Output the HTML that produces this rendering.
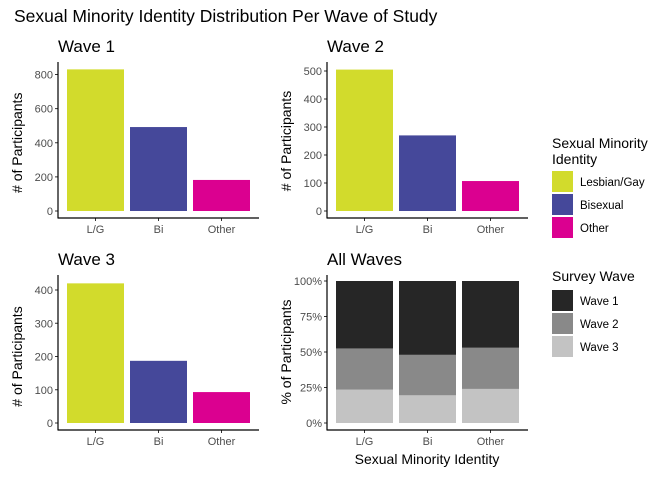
<!DOCTYPE html>
<html><head><meta charset="utf-8"><style>
body{margin:0;background:#fff}
svg{display:block;font-family:"Liberation Sans",Arial,sans-serif}
.tk{font-size:11px;fill:#4d4d4d}
.at{font-size:14px;fill:#000}
.pt{font-size:17px;fill:#000}
.lg{font-size:11.5px;fill:#000}
</style></head><body>
<svg id="c" width="672" height="480">
<text x="14" y="22" style="font-size:17.5px">Sexual Minority Identity Distribution Per Wave of Study</text>
</svg>
<script>
const categories=["L/G","Bi","Other"];
const catColors=["#D2DB2C","#45489A","#DB0090"];
const wave1Counts=[830,492,182];
const wave2Counts=[505,270,107];
const wave3Counts=[420,187,93];
const wave1Ticks=[0,200,400,600,800];
const wave2Ticks=[0,100,200,300,400,500];
const wave3Ticks=[0,100,200,300,400];
const shareWave1=[47.5,52,47];
const shareWave2=[29,28.5,29];
const shareWave3=[23.5,19.5,24];
const pctTicks=[0,25,50,75,100];
const waveNames=["Wave 1","Wave 2","Wave 3"];
const waveColors=["#262626","#898989","#C3C3C3"];
const NS="http://www.w3.org/2000/svg";
const svg=document.getElementById('c');
function mk(t,a,txt){const e=document.createElementNS(NS,t);for(const k in a)e.setAttribute(k,a[k]);if(txt!==undefined)e.textContent=txt;svg.appendChild(e);return e;}
function panel(px,y0,yTop,maxV,ticks,title,titleY,ytitle,fmt,id){
  const sy=v=>y0-(v/maxV)*(y0-yTop);
  const bx=i=>px+9+i*63;
  let e=mk('text',{x:px,y:titleY,class:'pt'},title);
  
  e=mk('text',{class:'at',transform:`translate(${px-36},${(y0+yTop)/2}) rotate(-90)`,'text-anchor':'middle'},ytitle);
  
  ticks.forEach(t=>{
    mk('line',{x1:px-3,x2:px,y1:sy(t),y2:sy(t),stroke:'#333','stroke-width':1});
    e=mk('text',{x:px-5,y:sy(t)+4,class:'tk','text-anchor':'end'},fmt(t));
    
  });
  categories.forEach((c,i)=>{
    const cx=bx(i)+28.5;
    mk('line',{x1:cx,x2:cx,y1:y0+7,y2:y0+10,stroke:'#333'});
    e=mk('text',{x:cx,y:y0+22,class:'tk','text-anchor':'middle'},c);
    
  });
  mk('line',{x1:px,x2:px,y1:titleY+10,y2:y0+7.5,stroke:'#000','stroke-width':1.2});
  mk('line',{x1:px,x2:px+201,y1:y0+7,y2:y0+7,stroke:'#000','stroke-width':1.2});
  return {sy,bx};
}
function countPanel(px,y0,yTop,ticks,vals,title,titleY,id){
  const maxV=ticks[ticks.length-1];
  const p=panel(px,y0,yTop,maxV,ticks,title,titleY,'# of Participants',t=>String(t),id);
  vals.forEach((v,i)=>{
    const r=mk('rect',{x:p.bx(i),y:p.sy(v),width:57,height:p.sy(0)-p.sy(v),fill:catColors[i]});
    
    
  });
}
countPanel(58,211,74.5,wave1Ticks,wave1Counts,'Wave 1',52,'wave1');
countPanel(327,211,71,wave2Ticks,wave2Counts,'Wave 2',52,'wave2');
countPanel(58,423,290,wave3Ticks,wave3Counts,'Wave 3',265,'wave3');
const p4=panel(327,423,281,100,pctTicks,'All Waves',265,'% of Participants',t=>t+'%','allwaves');
const shares=[shareWave1,shareWave2,shareWave3];
categories.forEach((c,i)=>{
  let base=0;
  for(let w=2;w>=0;w--){
    const v=shares[w][i];
    const r=mk('rect',{x:p4.bx(i),y:p4.sy(base+v),width:57,height:p4.sy(base)-p4.sy(base+v),fill:waveColors[w]});
    
    
    base+=v;
  }
});
let e=mk('text',{x:427,y:464,class:'at','text-anchor':'middle'},'Sexual Minority Identity');

e=mk('text',{x:552,y:148,class:'at'},'Sexual Minority');

mk('text',{x:552,y:164,class:'at'},'Identity');
const legNames=["Lesbian/Gay","Bisexual","Other"];
legNames.forEach((n,i)=>{
  const y=171+i*23;
  const r=mk('rect',{x:552,y:y,width:21,height:21,fill:catColors[i]});
  
  const t=mk('text',{x:580,y:y+15,class:'lg'},n);
  
});
e=mk('text',{x:552,y:281,class:'at'},'Survey Wave');

waveNames.forEach((n,i)=>{
  const y=290+i*23;
  const r=mk('rect',{x:552,y:y,width:21,height:21,fill:waveColors[i]});
  
  const t=mk('text',{x:580,y:y+15,class:'lg'},n);
  
});
</script>
</body></html>
